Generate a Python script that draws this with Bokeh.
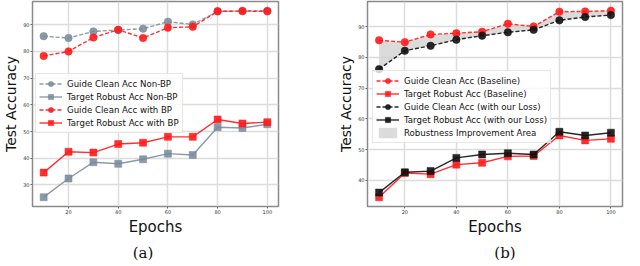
from bokeh.plotting import figure
from bokeh.models import Range1d, FixedTicker, Legend, LegendItem, Div, Spacer
from bokeh.layouts import row, column
from bokeh.embed import file_html
from bokeh.resources import INLINE

epochs = [10, 20, 30, 40, 50, 60, 70, 80, 90, 100]

# Panel (a)
guide_clean_nonbp = [85.7, 85.0, 87.5, 88.0, 88.5, 91.1, 90.1, 95.0, 95.1, 95.2]
target_robust_nonbp = [25.4, 32.4, 38.5, 37.9, 39.6, 41.7, 41.2, 51.6, 51.3, 52.7]
guide_clean_bp = [78.3, 80.0, 85.2, 88.1, 85.0, 88.9, 89.2, 95.0, 95.1, 95.0]
target_robust_bp = [34.6, 42.4, 42.1, 45.3, 45.8, 48.0, 48.0, 54.5, 53.0, 53.5]

# Panel (b)
guide_clean_base = [85.6, 85.0, 87.5, 87.9, 88.4, 91.0, 90.1, 94.9, 95.0, 95.2]
target_robust_base = [34.5, 42.4, 42.0, 45.1, 45.7, 47.8, 47.9, 54.6, 53.0, 53.5]
guide_clean_ours = [76.2, 82.2, 83.8, 85.8, 87.1, 88.2, 89.0, 92.1, 93.2, 93.8]
target_robust_ours = [36.0, 42.6, 43.0, 47.3, 48.4, 48.8, 48.4, 55.8, 54.6, 55.5]

x_ticks = [20, 40, 60, 80, 100]
y_ticks_a = [30, 40, 50, 60, 70, 80, 90]
y_ticks_b = [40, 50, 60, 70, 80, 90]

GRAY = "#778899"
RED = "#ff1a1a"
BLACK = "#111111"
FONT = "DejaVu Sans"


def padded(lo, hi):
    m = (hi - lo) * 0.05
    return Range1d(lo - m, hi + m)


def make_fig(width, left, right, yvals, yticks):
    p = figure(width=width, height=238, output_backend="svg", toolbar_location=None,
               min_border_left=left, min_border_right=right, min_border_top=1,
               min_border_bottom=0)
    p.x_range = padded(min(epochs), max(epochs))
    p.y_range = padded(min(yvals), max(yvals))
    p.xaxis.ticker = FixedTicker(ticks=x_ticks)
    p.yaxis.ticker = FixedTicker(ticks=yticks)
    for ax in (p.xaxis, p.yaxis):
        ax.axis_line_color = None
        ax.major_tick_line_color = "#666666"
        ax.major_tick_out = 2
        ax.major_tick_in = 0
        ax.minor_tick_line_color = None
        ax.major_label_text_font_size = "5px"
        ax.major_label_text_color = "#333333"
        ax.major_label_text_font = FONT
        ax.major_label_standoff = 1
        ax.axis_label_text_font = FONT
        ax.axis_label_text_font_style = "normal"
        ax.axis_label_text_color = "#111111"
    p.xaxis.axis_label = "Epochs"
    p.xaxis.axis_label_text_font_size = "15px"
    p.xaxis.axis_label_standoff = 1
    p.yaxis.axis_label = "Test Accuracy"
    p.yaxis.axis_label_text_font_size = "14px"
    p.yaxis.axis_label_standoff = 1
    p.grid.grid_line_color = "#dcdcdc"
    p.grid.grid_line_width = 1.5
    p.outline_line_color = "#8a8a8a"
    p.outline_line_width = 1.5
    return p


def series(p, y, color, dash, marker, alpha=0.9):
    ln = p.line(epochs, y, line_color=color, line_width=1.4, line_dash=dash, line_alpha=alpha)
    if marker == "circle":
        mk = p.scatter(epochs, y, marker="circle", size=7.5, fill_color=color,
                       line_color=color, fill_alpha=alpha, line_alpha=0.5)
    else:
        mk = p.scatter(epochs, y, marker="square", size=7, fill_color=color,
                       line_color=color, fill_alpha=alpha, line_alpha=0.5)
    return [ln, mk]


def style_legend(lg, x, y):
    lg.location = (x, y)
    lg.label_text_font = FONT
    lg.label_text_font_size = "8.6px"
    lg.label_text_color = "#111111"
    lg.label_height = 13
    lg.label_standoff = 5
    lg.glyph_width = 23
    lg.glyph_height = 13
    lg.spacing = 0
    lg.padding = 3
    lg.margin = 0
    lg.border_line_color = "#d0d0d0"
    lg.border_line_width = 1
    lg.background_fill_alpha = 0.8


# ---- panel (a)
pa = make_fig(300, 22, 22, guide_clean_nonbp + target_robust_nonbp + guide_clean_bp + target_robust_bp,
              y_ticks_a)
r1 = series(pa, guide_clean_nonbp, GRAY, "4 2", "circle", 0.85)
r2 = series(pa, target_robust_nonbp, GRAY, "solid", "square", 0.85)
r3 = series(pa, guide_clean_bp, RED, "4 2", "circle")
r4 = series(pa, target_robust_bp, RED, "solid", "square")
lga = Legend(items=[
    LegendItem(label="Guide Clean Acc Non-BP", renderers=r1),
    LegendItem(label="Target Robust Acc Non-BP", renderers=r2),
    LegendItem(label="Guide Clean Acc with BP", renderers=r3),
    LegendItem(label="Target Robust Acc with BP", renderers=r4),
])
style_legend(lga, 3, 73)
pa.add_layout(lga, "center")

# ---- panel (b)
pb = make_fig(324, 67, 2, guide_clean_base + target_robust_base + guide_clean_ours + target_robust_ours,
              y_ticks_b)
area = pb.varea(x=epochs, y1=guide_clean_ours, y2=guide_clean_base,
                fill_color="#cfcfcf", fill_alpha=0.75)
s1 = series(pb, guide_clean_base, RED, "4 2", "circle")
s2 = series(pb, target_robust_base, RED, "solid", "square")
s3 = series(pb, guide_clean_ours, BLACK, "4 2", "circle")
s4 = series(pb, target_robust_ours, BLACK, "solid", "square")
lgb = Legend(items=[
    LegendItem(label="Guide Clean Acc (Baseline)", renderers=s1),
    LegendItem(label="Target Robust Acc (Baseline)", renderers=s2),
    LegendItem(label="Guide Clean Acc (with our Loss)", renderers=s3),
    LegendItem(label="Target Robust Acc (with our Loss)", renderers=s4),
    LegendItem(label="Robustness Improvement Area", renderers=[area]),
])
style_legend(lgb, 5, 63)
pb.add_layout(lgb, "center")

cap_style = {"font-family": "'DejaVu Serif', serif", "font-size": "15px",
             "text-align": "center", "color": "#111111", "line-height": "12px",
             "position": "relative", "top": "4px"}
cap_a = Div(text="(a)", width=276, height=12, styles=cap_style)
gap = Spacer(width=80, height=12)
cap_b = Div(text="(b)", width=268, height=12, styles=cap_style)

layout = column(row(pa, pb), row(cap_a, gap, cap_b), spacing=0)
open("out.html", "w").write(file_html(layout, INLINE))
